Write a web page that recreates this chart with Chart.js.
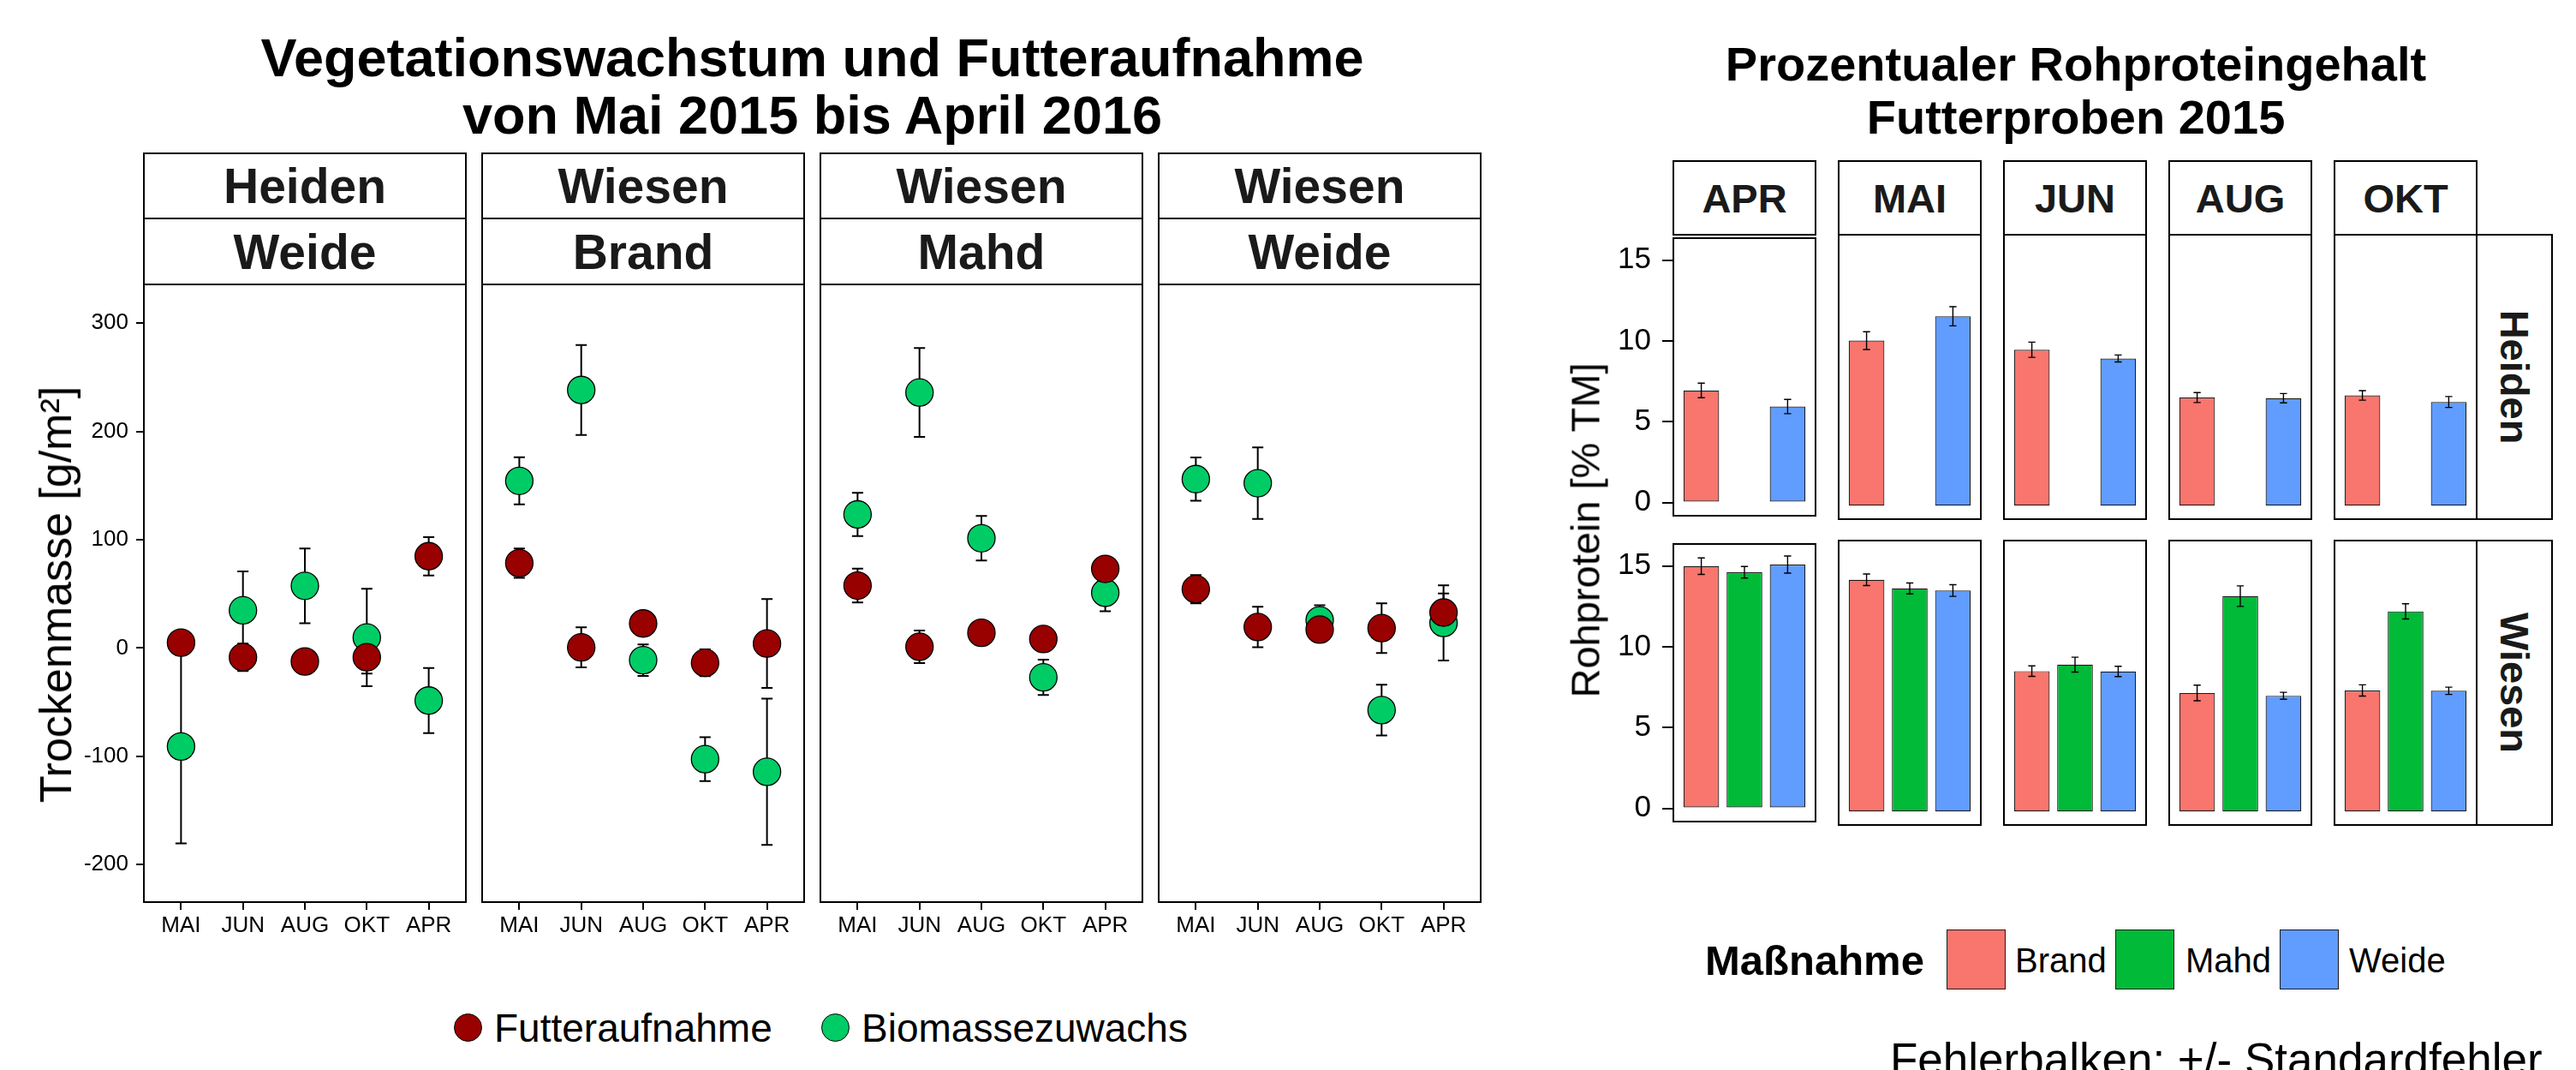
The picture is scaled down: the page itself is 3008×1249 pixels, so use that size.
<!DOCTYPE html>
<html><head><meta charset="utf-8">
<script src="https://cdn.jsdelivr.net/npm/chart.js@4"></script>
<style>
body{margin:0;width:3008px;height:1249px;overflow:hidden;background:#fff;position:relative;font-family:'Liberation Sans',Arial,sans-serif}
canvas{position:absolute}
.t{position:absolute;white-space:nowrap;line-height:1;color:#000}
.strip{position:absolute;box-sizing:border-box;border:2px solid #000;background:#fff;font-weight:bold;color:#1a1a1a;line-height:1}
.strip span{position:absolute;left:50%;top:50%;white-space:nowrap}
</style></head><body>
<script>
// ---------- DATA ----------
const leftMonths = ['MAI','JUN','AUG','OKT','APR'];
const leftFacetTop = ['Heiden','Wiesen','Wiesen','Wiesen'];
const leftFacetBottom = ['Weide','Brand','Mahd','Weide'];
const leftSeries = ['Futteraufnahme','Biomassezuwachs'];
const futterMean = [[5,-8.5,-12.4,-8.5,84.8],[78.4,0.6,22.7,-13.6,4.2],[57.7,1.2,14.1,8.3,73.1],[54.4,19.4,17,18.4,32.8]];
const futterSE   = [[4,12.7,3,15,17.7],[13.6,18.5,4,12.3,41],[15.6,15,4,4,5],[13,18.7,5,23,17.7]];
const bioMean    = [[-90.9,34.8,57.5,9.7,-48.5],[154.4,238.3,-11.2,-102.6,-114.3],[123.4,236,101.4,-27.1,51],[156,152.2,25.6,-57.3,23.2]];
const bioSE      = [[89.6,36,34.5,45,30],[21.7,41.6,14.5,20.3,67.5],[20,41,20.6,16.3,17],[20,33,14,23.5,34.8]];
const leftYTicks = [-200,-100,0,100,200,300];

const rightMonths = ['APR','MAI','JUN','AUG','OKT'];
const rightGroups = ['Heiden','Wiesen'];
const treatments = ['Brand','Mahd','Weide'];
const heidenBrand   = [6.94,9.97,9.42,6.53,6.66];
const heidenBrandSE = [0.45,0.54,0.46,0.30,0.29];
const heidenMahd    = [null,null,null,null,null];
const heidenMahdSE  = [null,null,null,null,null];
const heidenWeide   = [5.94,11.44,8.89,6.49,6.26];
const heidenWeideSE = [0.44,0.58,0.21,0.28,0.33];
const wiesenBrand   = [15.0,14.0,8.48,7.16,7.31];
const wiesenBrandSE = [0.51,0.35,0.32,0.47,0.34];
const wiesenMahd    = [14.62,13.48,8.87,13.01,12.09];
const wiesenMahdSE  = [0.36,0.33,0.45,0.62,0.46];
const wiesenWeide   = [15.1,13.35,8.46,6.99,7.29];
const wiesenWeideSE = [0.53,0.35,0.31,0.21,0.22];
const rightYTicks = [0,5,10,15];

// ---------- STYLE / LAYOUT ----------
const FONT = "'Liberation Sans', Arial, sans-serif";
Chart.defaults.font.family = FONT;
Chart.defaults.color = '#000';
const RED = '#990000', GREEN = '#00CC66';
const BAR_COLORS = ['#F8766D','#00BA38','#619CFF'];
const LX = [168,563,958,1353], LW = 376, LT = 332, LH = 721;
const RX = [1954,2147,2340,2533,2726], RW = 166, RT = [274,631], RH = 332;

function mkCanvas(l,t,w,h){
  const c=document.createElement('canvas');
  c.width=w; c.height=h; c.style.left=l+'px'; c.style.top=t+'px';
  c.style.width=w+'px'; c.style.height=h+'px';
  document.body.appendChild(c); return c;
}
function txt(s,x,baseline,size,opt={}){
  const d=document.createElement('div'); d.className='t'; d.textContent=s;
  d.style.fontSize=size+'px'; d.style.fontWeight=opt.bold?'bold':'normal';
  d.style.left=x+'px'; d.style.top=(baseline-0.8465*size)+'px';
  if(opt.center) d.style.transform='translateX(-50%)';
  document.body.appendChild(d); return d;
}
function rtxt(s,cx,cy,size,deg){
  const d=document.createElement('div'); d.className='t'; d.textContent=s;
  d.style.fontSize=size+'px'; d.style.left=cx+'px'; d.style.top=cy+'px';
  d.style.transform='translate(-50%,-50%) rotate('+deg+'deg)';
  document.body.appendChild(d);
}
function strip(s,l,t,w,h,size,deg){
  const d=document.createElement('div'); d.className='strip';
  d.style.left=(l-1)+'px'; d.style.top=(t-1)+'px'; d.style.width=(w+2)+'px'; d.style.height=(h+2)+'px';
  const sp=document.createElement('span'); sp.textContent=s; sp.style.fontSize=size+'px';
  sp.style.transform='translate(-50%,-50%)'+(deg?' rotate('+deg+'deg)':'');
  d.appendChild(sp); document.body.appendChild(d);
}

// ---------- PLUGINS ----------
function drawErr(chart,o){
  const ctx=chart.ctx, ys=chart.scales.y, xs=chart.scales.x;
  ctx.save(); ctx.strokeStyle='#000'; ctx.lineWidth=o.lw; ctx.lineCap='butt';
  chart.data.datasets.forEach((ds,d)=>{
    const meta=chart.getDatasetMeta(d);
    ds.data.forEach((pt,i)=>{
      const v=(pt!==null&&typeof pt==='object')?pt.y:pt, se=ds.se[i];
      if(v==null||se==null) return;
      const el=meta.data[i]; const x=el.x;
      const half=o.mode==='point'?(xs.getPixelForValue(o.cap)-xs.getPixelForValue(0)):el.width*o.cap;
      const y1=ys.getPixelForValue(v+se), y2=ys.getPixelForValue(v-se);
      ctx.beginPath();
      ctx.moveTo(x,y1); ctx.lineTo(x,y2);
      ctx.moveTo(x-half,y1); ctx.lineTo(x+half,y1);
      ctx.moveTo(x-half,y2); ctx.lineTo(x+half,y2);
      ctx.stroke();
    });
  });
  ctx.restore();
}
const errPlugin={id:'errbars',
  beforeDatasetsDraw(c,a,o){ if(o.mode==='point') drawErr(c,o); },
  afterDatasetsDraw(c,a,o){ if(o.mode==='bar') drawErr(c,o); }};
const framePlugin={id:'frame', afterDraw(c){
  const a=c.chartArea, ctx=c.ctx; ctx.save(); ctx.strokeStyle='#000'; ctx.lineWidth=2;
  ctx.strokeRect(a.left,a.top,a.right-a.left,a.bottom-a.top); ctx.restore(); }};

// ---------- LEFT CHART ----------
for(let f=0;f<4;f++){
  const M=30, W=f===0?100:0, H=50;
  const cv=mkCanvas(LX[f]-M-W, LT-M, LW+2*M+W, LH+2*M+H);
  new Chart(cv,{
    type:'scatter',
    data:{datasets:[
      {label:leftSeries[0], data:leftMonths.map((m,i)=>({x:i,y:futterMean[f][i]})), se:futterSE[f],
       backgroundColor:RED, borderColor:'#000', borderWidth:1.3, pointRadius:16, pointHoverRadius:16},
      {label:leftSeries[1], data:leftMonths.map((m,i)=>({x:i,y:bioMean[f][i]})), se:bioSE[f],
       backgroundColor:GREEN, borderColor:'#000', borderWidth:1.3, pointRadius:16, pointHoverRadius:16}
    ]},
    options:{responsive:false, animation:false, devicePixelRatio:1,
      layout:{padding:{left:M,right:M,top:M,bottom:M}},
      plugins:{legend:{display:false}, tooltip:{enabled:false}, errbars:{mode:'point', lw:2, cap:0.09}},
      scales:{
        x:{type:'linear', min:-0.6, max:4.6,
           afterBuildTicks:s=>{s.ticks=leftMonths.map((m,i)=>({value:i}));},
           afterFit:s=>{s.height=H;},
           ticks:{callback:v=>leftMonths[v], font:{size:26}, color:'#000', padding:3, maxRotation:0, autoSkip:false},
           grid:{drawOnChartArea:false, tickLength:9, color:'#000', lineWidth:2}, border:{display:false}},
        y:{type:'linear', display:f===0, min:-234.6, max:335.8,
           afterBuildTicks:s=>{s.ticks=leftYTicks.map(v=>({value:v}));},
           afterFit:s=>{s.width=W;},
           ticks:{callback:v=>String(v), font:{size:26}, color:'#000', padding:9},
           grid:{drawOnChartArea:false, tickLength:9, color:'#000', lineWidth:2}, border:{display:false}}
      }},
    plugins:[errPlugin, framePlugin]
  });
  strip(leftFacetTop[f], LX[f], 179, LW, 76, 57);
  strip(leftFacetBottom[f], LX[f], 255, LW, 77, 57);
}

// ---------- RIGHT CHART ----------
const rightVals=[[heidenBrand,heidenMahd,heidenWeide],[wiesenBrand,wiesenMahd,wiesenWeide]];
const rightSEs=[[heidenBrandSE,heidenMahdSE,heidenWeideSE],[wiesenBrandSE,wiesenMahdSE,wiesenWeideSE]];
for(let g=0;g<2;g++){
  for(let c=0;c<5;c++){
    const M=30, W=c===0?100:0;
    const cv=mkCanvas(RX[c]-M-W, RT[g]-M, RW+2*M+W, RH+2*M);
    new Chart(cv,{
      type:'bar',
      data:{labels:[rightMonths[c]], datasets:treatments.map((t,k)=>({
        label:t, data:[rightVals[g][k][c]], se:[rightSEs[g][k][c]],
        backgroundColor:BAR_COLORS[k], borderColor:'#1a1a1a', borderWidth:1.2, borderSkipped:false,
        categoryPercentage:0.911, barPercentage:0.826}))},
      options:{responsive:false, animation:false, devicePixelRatio:1,
        layout:{padding:{left:M,right:M,top:M,bottom:M}},
        plugins:{legend:{display:false}, tooltip:{enabled:false}, errbars:{mode:'bar', lw:1.4, cap:0.1}},
        scales:{
          x:{display:false},
          y:{type:'linear', display:c===0, min:-0.82, max:16.37,
             afterBuildTicks:s=>{s.ticks=rightYTicks.map(v=>({value:v}));},
             afterFit:s=>{s.width=W;},
             ticks:{callback:v=>String(v), font:{size:35}, color:'#000', padding:13},
             grid:{drawOnChartArea:false, tickLength:13, color:'#000', lineWidth:2}, border:{display:false}}
        }},
      plugins:[errPlugin, framePlugin]
    });
    if(g===0) strip(rightMonths[c], RX[c], 188, RW, 86, 47);
  }
  strip(rightGroups[g], 2892, RT[g], 88, RH, 47, 90);
}

// ---------- TITLES / LABELS / LEGENDS ----------
txt('Vegetationswachstum und Futteraufnahme', 948.5, 89, 63, {bold:true, center:true});
txt('von Mai 2015 bis April 2016', 948.5, 156, 63, {bold:true, center:true});
rtxt('Trockenmasse [g/m²]', 64.6, 694, 52, -90);

txt('Prozentualer Rohproteingehalt', 2424, 94, 56, {bold:true, center:true});
txt('Futterproben 2015', 2424, 156, 56, {bold:true, center:true});
rtxt('Rohprotein [% TM]', 1850.5, 618.5, 47, -90);

// left legend
const legCenters=[546,975], legColors=[RED,GREEN];
leftSeries.forEach((s,i)=>{
  const d=document.createElement('div');
  d.style.cssText='position:absolute;box-sizing:border-box;width:33px;height:33px;border-radius:50%;border:1.3px solid #000;background:'+legColors[i]+';left:'+(legCenters[i]-16.5)+'px;top:'+(1199-16.5)+'px';
  document.body.appendChild(d);
  txt(s, legCenters[i]+31, 1215.5, 46);
});
// right legend
txt('Maßnahme', 1991, 1138, 49, {bold:true});
const keyX=[2273,2470,2662], labX=[2353,2552,2743];
treatments.forEach((t,k)=>{
  const d=document.createElement('div');
  d.style.cssText='position:absolute;box-sizing:border-box;width:69px;height:70px;border:1.2px solid #1a1a1a;background:'+BAR_COLORS[k]+';left:'+keyX[k]+'px;top:1085px';
  document.body.appendChild(d);
  txt(t, labX[k], 1135, 40);
});
txt('Fehlerbalken: +/- Standardfehler', 2207, 1254.6, 53);
</script>
</body></html>
